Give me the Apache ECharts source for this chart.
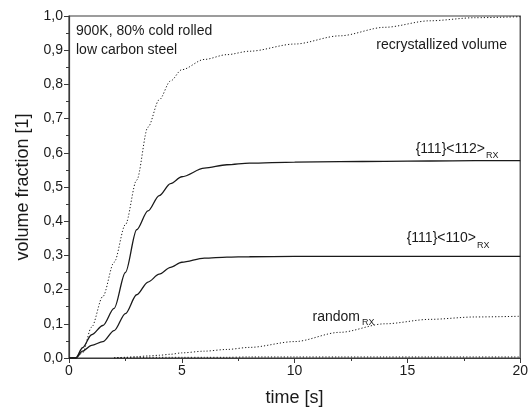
<!DOCTYPE html>
<html>
<head>
<meta charset="utf-8">
<script src="https://cdn.jsdelivr.net/npm/echarts@6/dist/echarts.min.js"></script>
<style>
  html, body { margin: 0; padding: 0; background: #fff; }
  #chart { width: 531px; height: 412px; }
</style>
</head>
<body>
<div id="chart"></div>
<script>
// time [s]
var times = [0, 0.3, 0.6, 1, 1.5, 2, 2.5, 3, 3.5, 4, 4.5, 5, 6, 7, 8, 10, 12, 14, 16, 18, 20];
// recrystallized volume
var rxVolume = [0, 0, 0.015, 0.09, 0.18, 0.28, 0.39, 0.52, 0.675, 0.755, 0.81, 0.843, 0.873, 0.887, 0.897, 0.918, 0.942, 0.967, 0.986, 0.995, 0.998];
// {111}<112> RX
var g112 = [0, 0, 0.03, 0.068, 0.095, 0.145, 0.25, 0.375, 0.43, 0.475, 0.51, 0.53, 0.555, 0.565, 0.57, 0.573, 0.574, 0.575, 0.576, 0.577, 0.577];
// {111}<110> RX
var g110 = [0, 0, 0.02, 0.037, 0.048, 0.08, 0.13, 0.185, 0.222, 0.245, 0.265, 0.28, 0.292, 0.295, 0.296, 0.297, 0.297, 0.297, 0.297, 0.297, 0.297];
// random RX
var randomRx = [null, null, null, null, null, 0, 0.002, 0.004, 0.006, 0.008, 0.011, 0.015, 0.02, 0.025, 0.031, 0.048, 0.075, 0.1, 0.113, 0.12, 0.122];
// small rest near zero
var restRx = [null, null, null, null, null, 0.001, 0.001, 0.001, 0.002, 0.002, 0.002, 0.002, 0.002, 0.002, 0.003, 0.003, 0.003, 0.003, 0.003, 0.003, 0.003];

var yTicks = [0, 0.1, 0.2, 0.3, 0.4, 0.5, 0.6, 0.7, 0.8, 0.9, 1.0];

function pairs(vals) {
  var res = [];
  for (var i = 0; i < times.length; i++) {
    res.push([times[i], vals[i]]);
  }
  return res;
}

var font = 'Liberation Sans, Arial, sans-serif';
var ink = '#1a1a1a';
var axisCol = '#3a3a3a';

var myChart = echarts.init(document.getElementById('chart'));

function line(name, vals, dotted, width) {
  return {
    name: name,
    type: 'line',
    data: pairs(vals),
    symbol: 'none',
    smooth: 0.3,
    smoothMonotone: 'x',
    connectNulls: false,
    silent: true,
    lineStyle: {
      color: ink,
      width: width,
      type: dotted ? [1.2, 2] : 'solid'
    }
  };
}

var option = {
  animation: false,
  backgroundColor: '#fff',
  grid: {
    left: 69, right: 7, top: 16, bottom: 51,
    show: true, borderColor: axisCol, borderWidth: 1.2
  },
  xAxis: {
    type: 'value',
    min: 0, max: 20, interval: 5,
    name: 'time [s]',
    nameLocation: 'middle',
    nameGap: 31,
    nameTextStyle: { fontFamily: font, fontSize: 18, color: ink },
    axisLine: { lineStyle: { color: axisCol, width: 1.2 } },
    axisTick: { show: true, inside: false, length: 5, lineStyle: { color: axisCol } },
    minorTick: { show: true, splitNumber: 2, length: 3, lineStyle: { color: axisCol } },
    splitLine: { show: false },
    axisLabel: { fontFamily: font, fontSize: 14, color: ink, margin: 6 }
  },
  yAxis: {
    type: 'value',
    min: 0, max: 1, interval: 0.1,
    name: 'volume fraction [1]',
    nameLocation: 'middle',
    nameGap: 37,
    nameTextStyle: { fontFamily: font, fontSize: 18, color: ink },
    axisLine: { show: true, lineStyle: { color: axisCol, width: 1.2 } },
    axisTick: { show: true, inside: false, length: 5, lineStyle: { color: axisCol } },
    minorTick: { show: true, splitNumber: 2, length: 3, lineStyle: { color: axisCol } },
    splitLine: { show: false },
    axisLabel: {
      fontFamily: font, fontSize: 14, color: ink, margin: 6,
      formatter: function (v) {
        var t = yTicks.indexOf(Math.round(v * 10) / 10) >= 0 ? v : v;
        return t.toFixed(1).replace('.', ',');
      }
    }
  },
  series: [
    line('recrystallized volume', rxVolume, true, 1),
    line('{111}<112>RX', g112, false, 1.3),
    line('{111}<110>RX', g110, false, 1.3),
    line('randomRX', randomRx, true, 1),
    line('rest', restRx, true, 1)
  ],
  graphic: [
    { type: 'text', x: 76, y: 31, style: { text: '900K, 80% cold rolled', font: '14px ' + font, fill: ink, textAlign: 'left', textVerticalAlign: 'middle' } },
    { type: 'text', x: 76, y: 50, style: { text: 'low carbon steel', font: '14px ' + font, fill: ink, textAlign: 'left', textVerticalAlign: 'middle' } },
    { type: 'text', x: 507, y: 45, style: { text: 'recrystallized volume', font: '14px ' + font, fill: ink, textAlign: 'right', textVerticalAlign: 'middle' } },
    { type: 'text', x: 485, y: 149, style: { text: '{111}<112>', font: '14px ' + font, fill: ink, textAlign: 'right', textVerticalAlign: 'middle' } },
    { type: 'text', x: 486, y: 156, style: { text: 'RX', font: '9px ' + font, fill: ink, textAlign: 'left', textVerticalAlign: 'middle' } },
    { type: 'text', x: 476, y: 238, style: { text: '{111}<110>', font: '14px ' + font, fill: ink, textAlign: 'right', textVerticalAlign: 'middle' } },
    { type: 'text', x: 477, y: 246, style: { text: 'RX', font: '9px ' + font, fill: ink, textAlign: 'left', textVerticalAlign: 'middle' } },
    { type: 'text', x: 360, y: 317, style: { text: 'random', font: '14px ' + font, fill: ink, textAlign: 'right', textVerticalAlign: 'middle' } },
    { type: 'text', x: 362, y: 323, style: { text: 'RX', font: '9px ' + font, fill: ink, textAlign: 'left', textVerticalAlign: 'middle' } }
  ]
};

myChart.setOption(option);
window.addEventListener('resize', function () {
  myChart.resize();
});
</script>
</body>
</html>
